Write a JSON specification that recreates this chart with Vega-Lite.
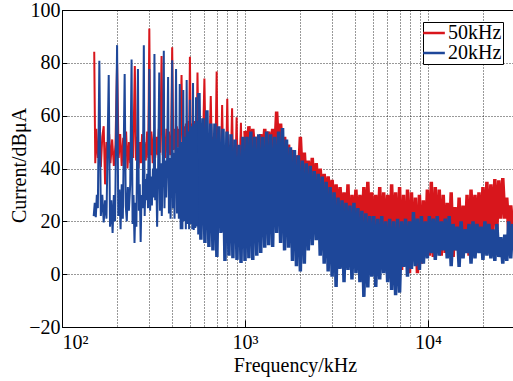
{
  "$schema": "https://vega.github.io/schema/vega-lite/v6.json",
  "width": 451,
  "height": 317,
  "autosize": {"type": "none"},
  "padding": {"left": 62, "top": 10, "right": 0, "bottom": 54},
  "background": "white",
  "config": {
    "font": "Liberation Serif",
    "view": {"stroke": "black", "strokeWidth": 1},
    "axis": {
      "labelFont": "Liberation Serif", "titleFont": "Liberation Serif",
      "labelFontSize": 20, "titleFontSize": 20, "labelColor": "black", "titleColor": "black",
      "titleFontWeight": "normal", "domainColor": "black", "domainWidth": 1,
      "gridColor": "#000000", "gridDash": [1, 2], "gridWidth": 1, "gridOpacity": 0.8,
      "tickColor": "black", "tickWidth": 1
    },
    "legend": {
      "orient": "none", "legendX": 361, "legendY": 12, "direction": "vertical",
      "padding": 1, "strokeColor": "black", "fillColor": "white", "strokeWidth": 1,
      "symbolType": "M-1.4,0H1.4", "symbolStrokeWidth": 2.5, "symbolSize": 240,
      "labelFont": "Liberation Serif", "labelFontSize": 20, "labelColor": "black",
      "labelOffset": 4, "rowPadding": 0, "cornerRadius": 0
    }
  },
  "datasets": {
    "r1": [
      {"f":150,"v":84.2},{"f":152,"v":42},{"f":154,"v":55},{"f":157,"v":44},{"f":160,"v":50},{"f":163,"v":40.6},{"f":166,"v":52},{"f":169,"v":56},{"f":172,"v":34},{"f":175,"v":50},{"f":178,"v":44},{"f":181,"v":53},{"f":184,"v":42},{"f":188,"v":51},{"f":192,"v":41},{"f":196,"v":49},
      {"f":200,"v":80},{"f":204,"v":44},{"f":208,"v":53},{"f":212,"v":41},{"f":216,"v":51.6},{"f":220,"v":43},{"f":224,"v":54},{"f":228,"v":40},{"f":232,"v":50},{"f":236,"v":42},{"f":240,"v":52},{"f":245,"v":44},
      {"f":250,"v":78.8},{"f":254,"v":43},{"f":258,"v":52},{"f":262,"v":40},{"f":266,"v":50},{"f":270,"v":42},{"f":274,"v":53},{"f":278,"v":39.4},{"f":282,"v":50},{"f":287,"v":43},{"f":292,"v":54},{"f":296,"v":44},
      {"f":300,"v":93},{"f":304,"v":45},{"f":308,"v":54},{"f":313,"v":42},{"f":318,"v":53},{"f":323,"v":44},{"f":328,"v":52},{"f":333,"v":45},{"f":338,"v":55},{"f":344,"v":46},
      {"f":350,"v":82.6},{"f":355,"v":45},{"f":360,"v":53},{"f":366,"v":44},{"f":372,"v":55},{"f":378,"v":46},{"f":384,"v":54},{"f":390,"v":45},{"f":395,"v":52},
      {"f":400,"v":85.9},{"f":406,"v":47},{"f":412,"v":55},{"f":418,"v":46},{"f":424,"v":56},{"f":430,"v":48},{"f":436,"v":55},{"f":442,"v":47},
      {"f":450,"v":75.4},{"f":456,"v":48},{"f":462,"v":56},{"f":468,"v":47},{"f":475,"v":57},{"f":482,"v":48},{"f":490,"v":58},{"f":495,"v":50},
      {"f":500,"v":82.3},{"f":506,"v":50},{"f":512,"v":57},{"f":519,"v":49},{"f":526,"v":58},{"f":533,"v":50},{"f":540,"v":57},{"f":545,"v":52},
      {"f":550,"v":76.3},{"f":557,"v":50},{"f":564,"v":58},{"f":571,"v":50},{"f":578,"v":56},{"f":585,"v":50},{"f":592,"v":55},
      {"f":600,"v":74.1},{"f":608,"v":50},{"f":616,"v":54},{"f":624,"v":48},{"f":632,"v":53},{"f":640,"v":48},
      {"f":650,"v":67.4},{"f":658,"v":48},{"f":666,"v":52},{"f":674,"v":47},{"f":682,"v":51},{"f":690,"v":46},
      {"f":700,"v":76.7},{"f":708,"v":46},{"f":716,"v":50},{"f":724,"v":46},{"f":732,"v":50},{"f":740,"v":44},
      {"f":750,"v":64},{"f":758,"v":45},{"f":766,"v":49},{"f":774,"v":44},{"f":782,"v":49},{"f":790,"v":44},
      {"f":800,"v":66.4},{"f":810,"v":44},{"f":820,"v":48},{"f":830,"v":43},{"f":840,"v":47},
      {"f":850,"v":62.8},{"f":860,"v":42},{"f":870,"v":46},{"f":880,"v":42},{"f":890,"v":45},
      {"f":900,"v":59.4},{"f":910,"v":42},{"f":920,"v":45},{"f":930,"v":41},{"f":940,"v":46},
      {"f":950,"v":57.3},{"f":960,"v":42},{"f":970,"v":46},{"f":980,"v":41},{"f":990,"v":47},{"f":1000,"v":54.2}
    ],
    "r2": [
      {"f":1000,"v":54.2},{"f":1025,"v":44},{"f":1050,"v":56},{"f":1076,"v":45},{"f":1103,"v":55},{"f":1131,"v":44},{"f":1160,"v":52},{"f":1189,"v":45},
      {"f":1219,"v":53},{"f":1250,"v":44},{"f":1282,"v":55},{"f":1314,"v":45},{"f":1347,"v":54},{"f":1381,"v":44},{"f":1416,"v":55},{"f":1452,"v":45},
      {"f":1489,"v":61.5},{"f":1526,"v":46},{"f":1565,"v":57},{"f":1604,"v":45},{"f":1645,"v":52},{"f":1686,"v":42},{"f":1729,"v":49},{"f":1772,"v":40},
      {"f":1817,"v":47},{"f":1863,"v":37},{"f":1910,"v":45},{"f":1958,"v":36},{"f":2007,"v":52},{"f":2058,"v":35},{"f":2110,"v":46},{"f":2163,"v":33},
      {"f":2218,"v":43},{"f":2274,"v":32},{"f":2331,"v":44},{"f":2390,"v":30},{"f":2451,"v":42},{"f":2513,"v":29},{"f":2576,"v":40},{"f":2641,"v":28},
      {"f":2708,"v":38},{"f":2777,"v":27},{"f":2847,"v":37},{"f":2919,"v":25},{"f":2993,"v":35.7},{"f":3068,"v":23},{"f":3146,"v":34},{"f":3225,"v":21},
      {"f":3307,"v":33},{"f":3390,"v":19},{"f":3476,"v":31},{"f":3564,"v":17},{"f":3654,"v":34},{"f":3746,"v":5.4},{"f":3841,"v":30},{"f":3938,"v":16},
      {"f":4038,"v":32},{"f":4140,"v":15},{"f":4245,"v":30},{"f":4352,"v":14},{"f":4462,"v":33},{"f":4575,"v":15},{"f":4690,"v":35},{"f":4809,"v":13},
      {"f":4930,"v":31},{"f":5055,"v":14},{"f":5183,"v":30},{"f":5314,"v":13},{"f":5448,"v":33},{"f":5586,"v":11},{"f":5727,"v":31},{"f":5872,"v":13},
      {"f":6020,"v":30},{"f":6172,"v":11},{"f":6328,"v":34},{"f":6488,"v":9},{"f":6652,"v":31},{"f":6820,"v":5.4},{"f":6993,"v":33},{"f":7169,"v":1.6},
      {"f":7351,"v":30},{"f":7537,"v":3},{"f":7727,"v":32},{"f":7923,"v":0.4},{"f":8123,"v":31},{"f":8328,"v":6.5},{"f":8539,"v":29},{"f":8755,"v":0.4},
      {"f":8976,"v":30},{"f":9203,"v":4},{"f":9436,"v":28},{"f":9675,"v":8},{"f":9919,"v":32},{"f":10170,"v":7},{"f":10427,"v":35},{"f":10691,"v":6.5},
      {"f":10961,"v":33},{"f":11238,"v":9},{"f":11523,"v":32},{"f":11814,"v":7},{"f":12113,"v":30},{"f":12419,"v":8},{"f":12733,"v":27},{"f":13055,"v":9},
      {"f":13385,"v":31},{"f":13724,"v":6.5},{"f":14071,"v":25.4},{"f":14427,"v":9},{"f":14792,"v":29},{"f":15166,"v":8},{"f":15549,"v":26},{"f":15942,"v":9},
      {"f":16345,"v":30},{"f":16759,"v":7},{"f":17183,"v":32},{"f":17617,"v":14},{"f":18063,"v":30},{"f":18520,"v":15},{"f":18988,"v":31},{"f":19468,"v":13},
      {"f":19960,"v":33},{"f":20465,"v":15},{"f":20983,"v":35},{"f":21513,"v":14},{"f":22057,"v":34},{"f":22615,"v":16},{"f":23187,"v":36},{"f":23774,"v":17},
      {"f":24375,"v":35.5},{"f":24992,"v":21},{"f":25624,"v":36.4},{"f":26272,"v":21},{"f":26936,"v":29},{"f":27617,"v":16},{"f":28316,"v":26},{"f":29032,"v":18}
    ],
    "b1": [
      {"f":149,"v":22},{"f":151,"v":27},{"f":153,"v":21.6},{"f":155,"v":30},{"f":157,"v":25},{"f":160,"v":80.8},{"f":163,"v":22},{"f":166,"v":30},{"f":169,"v":19.6},{"f":172,"v":28},{"f":175,"v":21},
      {"f":180,"v":75.4},{"f":183,"v":18},{"f":186,"v":28},{"f":189,"v":15.6},{"f":192,"v":30},{"f":195,"v":20},
      {"f":200,"v":86.7},{"f":203,"v":22},{"f":206,"v":32},{"f":209,"v":17},{"f":212,"v":34},{"f":215,"v":21},
      {"f":220,"v":75.8},{"f":223,"v":26},{"f":226,"v":20},{"f":229,"v":33},{"f":232,"v":24},{"f":236,"v":34},
      {"f":240,"v":81.3},{"f":243,"v":19},{"f":246,"v":30},{"f":249,"v":11.8},{"f":252,"v":27},{"f":255,"v":18},
      {"f":260,"v":77.7},{"f":263,"v":24},{"f":266,"v":34},{"f":269,"v":12.2},{"f":272,"v":30},{"f":276,"v":25},
      {"f":280,"v":86.7},{"f":283,"v":22},{"f":286,"v":36},{"f":289,"v":28},{"f":292,"v":38},{"f":295,"v":25},
      {"f":300,"v":77.7},{"f":303,"v":24},{"f":306,"v":37},{"f":310,"v":26},{"f":314,"v":40},{"f":317,"v":29},
      {"f":320,"v":83.3},{"f":323,"v":28},{"f":327,"v":40},{"f":331,"v":18},{"f":335,"v":38},
      {"f":340,"v":76.3},{"f":343,"v":24},{"f":347,"v":42},{"f":351,"v":22},{"f":355,"v":40},
      {"f":360,"v":84.6},{"f":363,"v":25},{"f":367,"v":43},{"f":371,"v":29},{"f":375,"v":42},
      {"f":380,"v":74.6},{"f":384,"v":23},{"f":388,"v":44},{"f":392,"v":21},{"f":396,"v":42},
      {"f":400,"v":81},{"f":404,"v":25},{"f":408,"v":46},{"f":412,"v":21},{"f":416,"v":45},
      {"f":420,"v":77.7},{"f":425,"v":23},{"f":430,"v":48},{"f":435,"v":21},
      {"f":440,"v":72},{"f":445,"v":17},{"f":450,"v":50},{"f":455,"v":17},
      {"f":460,"v":69.7},{"f":465,"v":20},{"f":470,"v":52},{"f":475,"v":17},
      {"f":480,"v":73.5},{"f":485,"v":19},{"f":490,"v":54},{"f":495,"v":17},
      {"f":500,"v":66},{"f":505,"v":19},{"f":510,"v":56},{"f":515,"v":17},
      {"f":520,"v":72.4},{"f":525,"v":16.7},{"f":530,"v":57},{"f":535,"v":17.5},
      {"f":540,"v":67},{"f":545,"v":18},{"f":550,"v":58},{"f":555,"v":15},{"f":560,"v":68.6}
    ],
    "b2": [
      {"f":560,"v":68.6},{"f":574,"v":13},{"f":589,"v":59},{"f":604,"v":11.8},{"f":619,"v":62},{"f":635,"v":10.3},{"f":651,"v":57},{"f":668,"v":9},
      {"f":685,"v":57},{"f":702,"v":6.5},{"f":720,"v":56},{"f":739,"v":15.6},{"f":758,"v":55},{"f":777,"v":5},{"f":797,"v":54},{"f":817,"v":7},
      {"f":838,"v":53},{"f":859,"v":6},{"f":881,"v":51},{"f":904,"v":5.4},{"f":927,"v":49},{"f":951,"v":4.2},{"f":975,"v":52},
      {"f":1000,"v":5},{"f":1025,"v":52},{"f":1050,"v":6},{"f":1076,"v":54},{"f":1103,"v":5.4},{"f":1131,"v":52},{"f":1160,"v":7},{"f":1189,"v":53},
      {"f":1219,"v":8},{"f":1250,"v":52},{"f":1282,"v":10},{"f":1314,"v":54},{"f":1347,"v":11},{"f":1381,"v":53},{"f":1416,"v":10.3},{"f":1452,"v":52},
      {"f":1489,"v":15.6},{"f":1526,"v":54},{"f":1565,"v":11.8},{"f":1604,"v":55.3},{"f":1645,"v":9},{"f":1686,"v":51},{"f":1729,"v":10},{"f":1772,"v":48},
      {"f":1817,"v":5},{"f":1863,"v":47},{"f":1910,"v":3},{"f":1958,"v":45},{"f":2007,"v":1},{"f":2058,"v":43},{"f":2110,"v":4},{"f":2163,"v":42},
      {"f":2218,"v":9},{"f":2274,"v":41},{"f":2331,"v":11},{"f":2390,"v":39},{"f":2451,"v":12.9},{"f":2513,"v":38},{"f":2576,"v":7},{"f":2641,"v":37},
      {"f":2708,"v":4},{"f":2777,"v":35},{"f":2847,"v":1},{"f":2919,"v":33},{"f":2993,"v":-1},{"f":3068,"v":31},{"f":3146,"v":-4.8},{"f":3225,"v":29},
      {"f":3307,"v":2},{"f":3390,"v":28},{"f":3476,"v":-3},{"f":3564,"v":27},{"f":3654,"v":1.6},{"f":3746,"v":26},{"f":3841,"v":-2},{"f":3938,"v":27},
      {"f":4038,"v":0.4},{"f":4140,"v":25},{"f":4245,"v":-3},{"f":4352,"v":24},{"f":4462,"v":-8.6},{"f":4575,"v":23},{"f":4690,"v":-5},{"f":4809,"v":22},
      {"f":4930,"v":-1},{"f":5055,"v":22},{"f":5183,"v":-4.8},{"f":5314,"v":21},{"f":5448,"v":-2},{"f":5586,"v":22},{"f":5727,"v":0.4},{"f":5872,"v":20},
      {"f":6020,"v":-3},{"f":6172,"v":21},{"f":6328,"v":-6},{"f":6488,"v":20},{"f":6652,"v":-8},{"f":6820,"v":21},{"f":6993,"v":-7},{"f":7169,"v":20},
      {"f":7351,"v":2.7},{"f":7537,"v":21},{"f":7727,"v":-1},{"f":7923,"v":20},{"f":8123,"v":2},{"f":8328,"v":23.5},{"f":8539,"v":3},{"f":8755,"v":21},
      {"f":8976,"v":1.6},{"f":9203,"v":22},{"f":9436,"v":4},{"f":9675,"v":20},{"f":9919,"v":6},{"f":10170,"v":22},{"f":10427,"v":8},{"f":10691,"v":21},
      {"f":10961,"v":5.4},{"f":11238,"v":22},{"f":11523,"v":7},{"f":11814,"v":20},{"f":12113,"v":9},{"f":12419,"v":21},{"f":12733,"v":6},{"f":13055,"v":22},
      {"f":13385,"v":3},{"f":13724,"v":19},{"f":14071,"v":9},{"f":14427,"v":18},{"f":14792,"v":2.7},{"f":15166,"v":20},{"f":15549,"v":6},{"f":15942,"v":17},
      {"f":16345,"v":8},{"f":16759,"v":19},{"f":17183,"v":4},{"f":17617,"v":20},{"f":18063,"v":6},{"f":18520,"v":19},{"f":18988,"v":8},{"f":19468,"v":18},
      {"f":19960,"v":5.4},{"f":20465,"v":20},{"f":20983,"v":7},{"f":21513,"v":19},{"f":22057,"v":6},{"f":22615,"v":17},{"f":23187,"v":5},{"f":23774,"v":19},
      {"f":24375,"v":6.5},{"f":24992,"v":14},{"f":25624,"v":4},{"f":26272,"v":15},{"f":26936,"v":5},{"f":27617,"v":20},{"f":28316,"v":6},{"f":29032,"v":19}
    ]
  },
  "encoding": {
    "x": {
      "field": "f", "type": "quantitative",
      "scale": {"type": "log", "domain": [100, 29140], "nice": false},
      "axis": {
        "values": [100,200,300,400,500,600,700,800,900,1000,2000,3000,4000,5000,6000,7000,8000,9000,10000,20000],
        "labelExpr": "datum.value == 100 ? '10²' : datum.value == 1000 ? '10³' : datum.value == 10000 ? '10⁴' : ''",
        "labelFlush": true, "labelOverlap": false, "labelBaseline": "alphabetic", "labelPadding": 28, "labelDx": -3,
        "ticks": true, "tickSize": -7,
        "tickOpacity": {"condition": {"test": "datum.value == 1000 || datum.value == 10000", "value": 1}, "value": 0},
        "grid": true, "title": "Frequency/kHz", "titleX": 233, "titleY": 44, "titleBaseline": "alphabetic"
      }
    },
    "y": {
      "field": "v", "type": "quantitative",
      "scale": {"domain": [-20, 100], "nice": false},
      "axis": {
        "values": [-20, 0, 20, 40, 60, 80, 100], "labelPadding": 7, "grid": true,
        "ticks": true, "tickSize": -5,
        "title": "Current/dBμA", "titleX": -37, "titleY": 155, "titleBaseline": "alphabetic"
      }
    }
  },
  "layer": [
    {
      "data": {"name": "r1"},
      "mark": {"type": "line", "strokeWidth": 2, "strokeJoin": "bevel", "clip": true},
      "encoding": {
        "color": {
          "datum": "50kHz",
          "scale": {"domain": ["50kHz", "20kHz"], "range": ["#d8161c", "#1e4799"]},
          "legend": {"title": null}
        }
      }
    },
    {
      "data": {"name": "r2"},
      "mark": {"type": "line", "strokeWidth": 3.5, "strokeJoin": "bevel", "clip": true},
      "encoding": {"color": {"datum": "50kHz"}}
    },
    {
      "data": {"name": "b1"},
      "mark": {"type": "line", "strokeWidth": 2, "strokeJoin": "bevel", "clip": true},
      "encoding": {"color": {"datum": "20kHz"}}
    },
    {
      "data": {"name": "b2"},
      "mark": {"type": "line", "strokeWidth": 3.5, "strokeJoin": "bevel", "clip": true},
      "encoding": {"color": {"datum": "20kHz"}}
    }
  ]
}
